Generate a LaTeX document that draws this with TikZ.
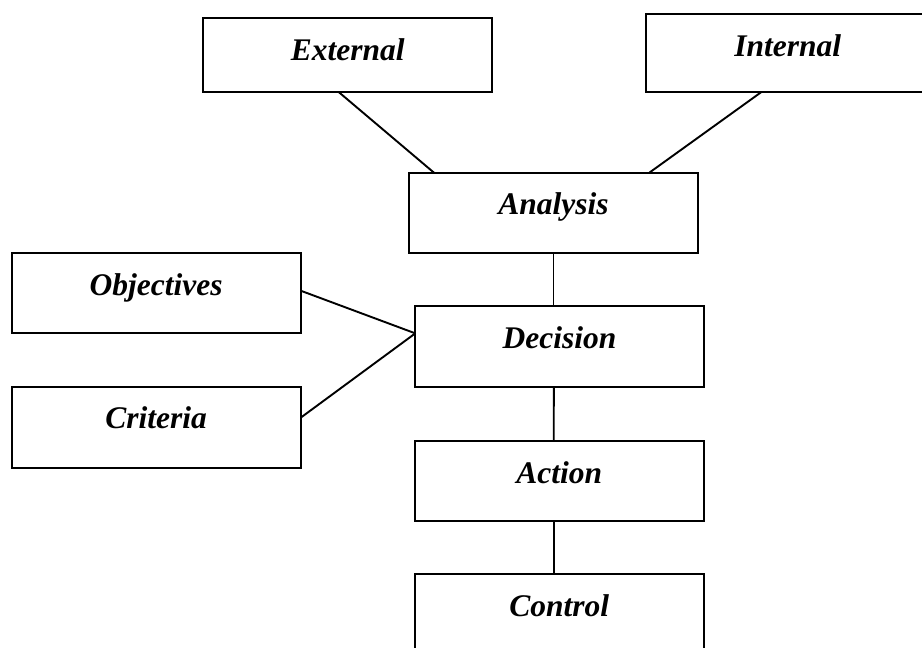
\documentclass[tikz,border=0pt]{standalone}
\usepackage{fontspec}
\setmainfont{Liberation Serif}
\begin{document}
\begin{tikzpicture}[x=1pt,y=-1pt,
  box/.style={draw=black, line width=1.9pt, inner sep=0pt, outer sep=0pt, anchor=north,
    font=\fontsize{31.5}{36}\selectfont\bfseries\itshape, text height=42pt},
  conn/.style={draw=black, line width=1.9pt}]
\useasboundingbox (0,0) rectangle (922,648);
\clip (0,0) rectangle (922,648);
\node[box, minimum width=289pt, text depth=32.3pt] (ext) at (347.8,18) {External};
\node[box, minimum width=284.3pt, text depth=36.3pt] (int) at (787.85,14) {Internal};
\node[box, minimum width=288.4pt, text depth=38pt] (ana) at (553.5,172.7) {Analysis};
\node[box, minimum width=289pt, text depth=37.4pt] (obj) at (156.2,253.3) {Objectives};
\node[box, minimum width=288.4pt, text depth=38.7pt] (dec) at (559.5,306) {Decision};
\node[box, minimum width=289pt, text depth=39pt] (cri) at (156.2,386.7) {Criteria};
\node[box, minimum width=288.7pt, text depth=37.7pt] (act) at (559.35,441) {Action};
\node[box, minimum width=288.7pt, text depth=38.5pt] (con) at (559.35,574.3) {Control};
\draw[conn] ([xshift=-8.8pt]ext.south) -- ([xshift=-119.5pt]ana.north);
\draw[conn] ([xshift=-26.85pt]int.south) -- ([xshift=95.8pt]ana.north);
\draw[conn] (ana.south) -- (ana.south |- dec.north);
\draw[conn] ([yshift=2.3pt]obj.east) -- ([yshift=13pt]dec.west);
\draw[conn] ([yshift=9.5pt]cri.east) -- ([yshift=13pt]dec.west);
\draw[conn] ([xshift=-5.65pt]dec.south) -- ([xshift=-5.65pt]act.north);
\draw[conn] ([xshift=-5.65pt]act.south) -- ([xshift=-5.65pt]con.north);
\end{tikzpicture}
\end{document}
